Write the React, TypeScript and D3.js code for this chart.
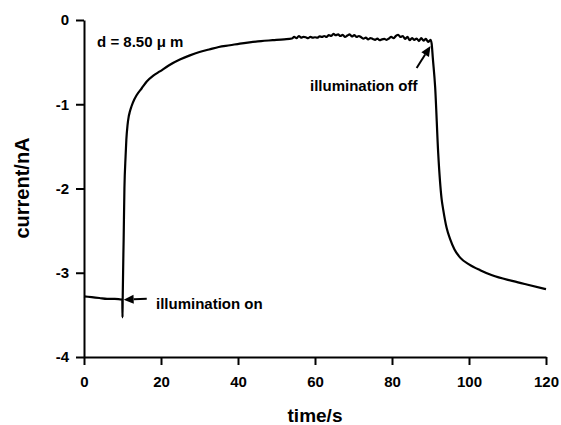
import React, { useRef, useEffect } from 'react';
import * as d3 from 'd3';

// photocurrent transient
const timeS = [
  0, 2, 4, 6, 8, 9.95, 10.0, 10.05, 10.3, 10.5, 10.8, 11.0, 11.3, 11.6, 11.9, 12.3, 12.7, 13.7,
  15, 16.3, 18, 19.7, 22, 24.9, 27.5, 30, 32.5, 35, 37.9, 40.5, 43, 46, 49, 52,
  54, 54.6, 55.2, 55.8, 56.4, 57, 57.6, 58.2, 58.8, 59.4, 60, 60.6, 61.2, 61.8,
  62.4, 63, 63.6, 64.2, 64.8, 65.4, 66, 66.6, 67.2, 67.8, 68.4, 69, 69.6, 70.2,
  70.8, 71.4, 72, 72.6, 73.2, 73.8, 74.4, 75, 75.6, 76.2, 76.8, 77.4, 78, 78.6,
  79.2, 79.8, 80.4, 81, 81.6, 82.2, 82.8, 83.4, 84, 84.6, 85.2, 85.8, 86.4, 87,
  87.6, 88.2, 88.8, 89.4, 90, 90.3, 90.6, 91.2, 92.0, 92.9, 93.3, 94.2, 95.1,
  96.2, 97.7, 100, 102.9, 106, 111.5, 115, 120
];
const currentNA = [
  -3.28, -3.29, -3.30, -3.31, -3.31, -3.32, -3.53, -3.31, -2.6, -2.0, -1.62, -1.42, -1.25, -1.15, -1.09, -1.03, -0.98, -0.89,
  -0.81, -0.73, -0.66, -0.61, -0.54, -0.47, -0.42, -0.38, -0.35, -0.32, -0.30, -0.28, -0.265, -0.25, -0.24, -0.23,
  -0.22, -0.2, -0.215, -0.19, -0.21, -0.2, -0.205, -0.215, -0.2, -0.21, -0.205, -0.21, -0.195, -0.2,
  -0.19, -0.2, -0.18, -0.19, -0.165, -0.18, -0.17, -0.19, -0.175, -0.2, -0.185, -0.17, -0.195, -0.18,
  -0.2, -0.19, -0.205, -0.22, -0.21, -0.23, -0.215, -0.225, -0.235, -0.22, -0.24, -0.23, -0.225, -0.235,
  -0.22, -0.2, -0.215, -0.19, -0.175, -0.2, -0.19, -0.225, -0.2, -0.24, -0.215, -0.235, -0.22, -0.25,
  -0.215, -0.245, -0.225, -0.26, -0.235, -0.28, -0.45, -0.79, -1.58, -2.13, -2.25, -2.47, -2.6,
  -2.72, -2.82, -2.9, -2.97, -3.03, -3.1, -3.14, -3.195
];
const xTicks = [0, 20, 40, 60, 80, 100, 120];
const yTicks = [-4, -3, -2, -1, 0];

const font = '"Liberation Sans", Arial, Helvetica, sans-serif';

export default function App() {
  const ref = useRef<SVGSVGElement>(null);

  useEffect(() => {
    const svg = d3.select(ref.current);
    svg.selectAll('*').remove();

    const x = d3.scaleLinear().domain([0, 120]).range([84, 546]);
    const y = d3.scaleLinear().domain([-4, 0]).range([357, 20]);

    const xAxis = svg.append('g')
      .attr('transform', `translate(0,${y(-4)})`)
      .call(d3.axisBottom(x).tickValues(xTicks).tickSize(8).tickSizeOuter(0).tickPadding(11)
        .tickFormat(d => String(d)));
    const yAxis = svg.append('g')
      .attr('transform', `translate(${x(0)},0)`)
      .call(d3.axisLeft(y).tickValues(yTicks).tickSize(8).tickSizeOuter(0).tickPadding(7)
        .tickFormat(d => String(d)));

    [xAxis, yAxis].forEach(g => {
      g.select('.domain').attr('stroke', '#000').attr('stroke-width', 2);
      g.selectAll('.tick line').attr('stroke', '#000').attr('stroke-width', 2);
      g.selectAll('.tick text')
        .attr('fill', '#000')
        .style('font-family', font)
        .style('font-weight', 'bold')
        .style('font-size', '15px');
    });

    const line = d3.line<number>()
      .x((_, i) => x(timeS[i]))
      .y(d => y(d))
      .curve(d3.curveMonotoneX);

    svg.append('path')
      .datum(currentNA)
      .attr('d', line)
      .attr('fill', 'none')
      .attr('stroke', '#000')
      .attr('stroke-width', 2.2)
      .attr('stroke-linejoin', 'round');

    // arrows
    const arrow = (x1: number, y1: number, x2: number, y2: number) => {
      const ang = Math.atan2(y2 - y1, x2 - x1);
      const len = 10, hw = 4.5;
      const bx = x2 - len * Math.cos(ang), by = y2 - len * Math.sin(ang);
      svg.append('line')
        .attr('x1', x1).attr('y1', y1).attr('x2', bx).attr('y2', by)
        .attr('stroke', '#000').attr('stroke-width', 2);
      svg.append('polygon')
        .attr('points', [
          [x2, y2],
          [bx + hw * Math.sin(ang), by - hw * Math.cos(ang)],
          [bx - hw * Math.sin(ang), by + hw * Math.cos(ang)]
        ].map(p => p.join(',')).join(' '))
        .attr('fill', '#000');
    };
    arrow(x(16.3), y(-3.31), x(10.3), y(-3.32));
    arrow(x(86.4), y(-0.57), x(90.0), y(-0.31));

    const label = (tx: number, ty: number, s: string, size = 15, anchor = 'start') =>
      svg.append('text')
        .attr('x', tx).attr('y', ty)
        .attr('text-anchor', anchor)
        .style('font-family', font)
        .style('font-weight', 'bold')
        .style('font-size', `${size}px`)
        .attr('fill', '#000')
        .text(s);

    label(x(3.4), y(-0.32), 'd = 8.50 \u03bc m', 15);
    label(x(18.7), y(-3.43), 'illumination on', 15);
    label(x(58.7), y(-0.84), 'illumination off', 15);

    label(315, 422, 'time/s', 19, 'middle');
    label(0, 0, 'current/nA', 20, 'middle')
      .attr('transform', 'translate(29,188) rotate(-90)');
  }, []);

  return (
    <svg
      ref={ref}
      width={561}
      height={425}
      style={{ position: 'absolute', left: 0, top: 0, background: '#fff' }}
    />
  );
}
